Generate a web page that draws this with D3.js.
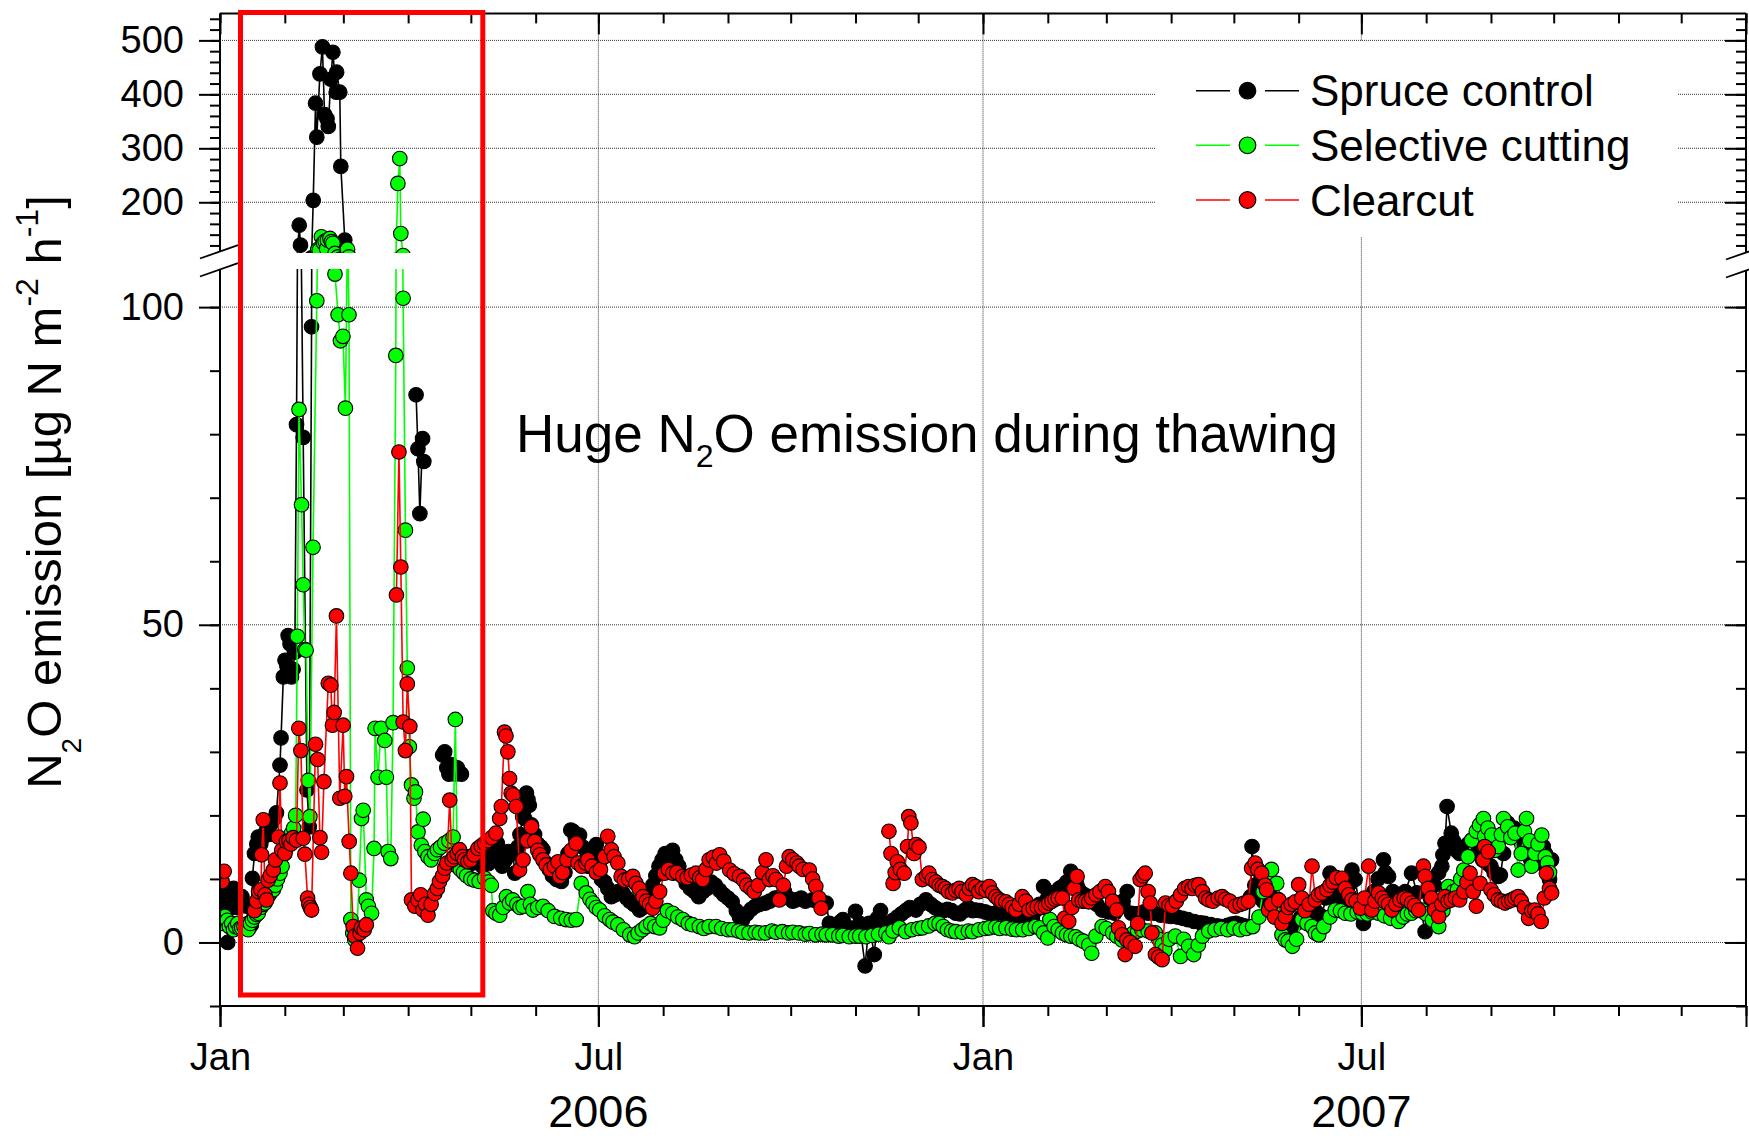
<!DOCTYPE html>
<html>
<head>
<meta charset="utf-8">
<script src="https://cdn.jsdelivr.net/npm/d3@7"></script>
<style>
  body { margin: 0; background: #fff; }
  svg { display: block; }
  text { font-family: "Liberation Sans", Arial, Helvetica, sans-serif; fill: #000; }
</style>
</head>
<body>
<svg id="chart" width="1749" height="1139"></svg>
<script>
// N2O emission from three forest treatments, Jan 2006 – Sep 2007.
// Each series is a list of [day since 1 Jan 2006, µg N m-2 h-1]; null breaks the line.

const seriesNames = ["Spruce control", "Selective cutting", "Clearcut"];
const seriesColors = ["#000000", "#00ff00", "#ff0000"];

const spruceControl = [
  [0,6],[1,7.5],[2,8],[3,6.5],[3.7,0],[4.5,7],[5.5,5.5],[6.5,8.5],[7.5,7.8],[8.5,5.5],[9.6,6.7],[10.5,7.2],[11.5,6],[12.7,5.7],[13.5,3],[14.3,2.5],[15,2.8],
  [15.5,10.1],[16.5,14],[17.6,15.5],[18.3,16.6],[19.5,15.5],[20.7,16.6],[22,17.5],[23.5,17],[24.5,18.7],[26,19.5],[27,20.4],[28.7,27.9],[29.2,32.2],
  [30.3,41.8],[31.1,44.4],[32,43.5],[32.6,48.3],[33.5,47],[34.2,41.8],[35,43],[35.8,45.7],[36.6,81.5],[37.9,157.5],[38.5,120.5],[39.8,79.5],[41.6,24],
  [42.7,18.2],[43.8,96.9],[44.6,203.6],[45.7,383.6],[46.3,320.7],[47.8,438],[49,488],[50,362.6],[51.2,354.6],[51.8,340.5],[53,428],[54,478],[55.6,404],
  [55.8,441],[57.3,404],[57.8,266.5],[59.7,130],[60.1,112],[61,null],
  [93.8,86.2],[94.7,77.7],[95.6,67.5],[96.9,79.3],[97.5,75.7],[98,null],
  [106.5,29.5],[107.5,30],[108.5,27.5],[109.5,26.5],[110.5,28],[111.5,27],[112.5,26.5],[113.5,27.5],[114.5,26.8],[115.5,26.5],[116,null],
  [118,12],[119.5,13.5],[121,12.5],[122.5,14],[124,13],[125.5,12],[126.4,13.7],[128.4,12.4],[130,14],[131.5,15],[132.7,15.6],[133.8,13.5],[135,12],
  [136.5,13],[138,14.3],[140.2,14],[141,10.9],[142.5,15],[143.5,17],[144.8,19.8],[145.7,19.5],[146.6,23.5],[147.3,22.5],[148,21.6],[149,18.5],[150.5,17],
  [152,15.5],[153.5,15],[154.5,14.6],[156,12.5],[157.5,11.5],[159,10.5],[161,9.9],[163.3,9.6],[165,11],[166.5,14],[167.8,17.7],[168.9,17.5],[170,16.5],
  [172,16.9],[173.5,15],[175,13],[176,12],[177.5,13],[179,14.5],[180,15.4],[181,13.5],[181.6,12.7],[182.5,9.9],[184,9.5],[185.5,8.5],[187.2,7.2],[189,7.5],
  [190.5,8],[192.7,7.8],[194.5,7],[196,6.5],[198,6],[200.7,5.1],[202.5,5.5],[204,6.2],[205.5,7.5],[207,9],[208.5,10.5],[210,12],[211.5,13],[213,14],
  [215,13.8],[216.5,14.5],[218,13],[219.5,12],[221,10.5],[223,9.3],[225,8.5],[227,8],[229,7.2],[231,8],[233,8.5],[235,9.5],[237,9],[239,8.2],[241,7.5],
  [243,7],[245,6.4],[247,5],[248.5,4],[250,3.6],[252,4.5],[254,5.2],[256,5.7],[258,6],[261,6.2],[263,6.5],[265.5,7],[268,7.2],[270,8],[272,7],[274,6.5],
  [275.5,6.7],[278,7],[280,6.5],[283.5,6.7],[285.5,6.5],[287.5,6],[290,6.2],[291.5,3],[293,2.5],[295,2.8],[297,3.3],[298,3.6],[300,2.5],[302.6,1.5],
  [304,4.9],[306,3],[308.6,-3.7],[310.5,3],[313,-1.9],[314.5,3.8],[316,5],[318,3],[320,2.5],[322,3.5],[324,4],[326,4.5],[328,5],[330,5.5],[332.9,5.1],
  [335,6],[337.7,6.7],[340,6],[342,5.5],[344,5.1],[346,5],[348,5.2],[350,5],[352,4.6],[354,4.5],[356,5],[358,5.5],[360,5],[361.5,5.1],[363.5,5],[366,4.8],
  [367.9,4.6],[370,4.5],[372,4.8],[374,4.6],[376,4.6],[378,4.2],[380,4],[382,3.8],[383.8,3.6],[386,3.5],[388.6,3.6],[390,5],[392,6],[394,8.8],[396,7],
  [398,7.8],[400,8],[401.5,8.5],[403,8.8],[405,9.5],[407,11.2],[408.5,9.9],[410,9],[411.5,8],[413.5,7.5],[415.6,7.2],[417.5,6.5],[419.5,6],[422,5.1],
  [425,4.8],[428,4.6],[430,5.5],[432,6.5],[434,8],[436,4.6],[438,4.5],[440,4.6],[442,4.8],[444,4.6],[447,4.6],[450,4.3],[453,4.2],[455,4.1],[458,4],
  [460.5,3.8],[463,3.6],[466,3.3],[469,3.1],[471,3],[474,2.8],[477,2.6],[479,2.5],[482,2.7],[484,2.9],[486,3],[488,2.8],[490,2.6],[492,2.5],[493,7.2],
  [493.7,15.1],[495,9],[497,8],[499,6.5],[501,6],[503,6.5],[505,7],[507,6],[508.5,5.7],[510.5,3],[513.6,0.9],[515,3],[517,4],[519,4.5],[522.4,5.1],
  [524.5,4.8],[527,4.1],[529,7],[531,10.9],[532.5,8],[534.3,6.4],[536,6],[538,7],[540,9],[541.5,11.4],[543,9.9],[545,6],[547,3],[548,6.4],[550,7],[552,8],
  [554,10],[556.6,13],[557.5,11],[559,10.4],[561,8],[563,7],[565,7.5],[567,8],[570,10.9],[572.6,7.8],[574.5,5],[576.5,1.7],[577,5.1],[579,7],[581,9],
  [583,11],[584.5,12],[585,13.8],[586,15.6],[587,21.4],[589,17.2],[590,16],[591,14.6],[593,14],[595,15],[597,15.5],[598.8,16.1],[600.5,15],[602,14],
  [604,13],[606,12.5],[608,12],[609.5,11],[611.5,10.4],[612.5,10.6],[614,14],[616,18.8],[617.5,17.5],[619,18],[621,17.2],[622,16],[623,15.1],[624,16.7],
  [625.5,15],[627,13],[628.5,12.5],[630,12.5],[631.5,14],[633,15.1],[634,14],[635,12],[636,9.9],[637,13]
];

const selectiveCutting = [
  [0,4],[1,3],[2.4,4.1],[3.5,3.5],[4.5,2.5],[5.6,3],[6.5,2],[7.5,2.5],[8.5,3],[9.5,2.2],[10.4,2.3],[11.5,2.5],[12.5,2.8],[13.5,2],[14.5,3],[15.5,3.5],
  [16.5,4],[17.5,4.4],[18.3,4.6],[19.5,5.5],[20.5,6],[21.5,6.2],[22.5,7],[23.5,7.5],[24.5,8],[25.5,8.3],[26.5,9],[27.5,10],[28.7,10.9],[29.7,12],[31,14],
  [32,15],[33,16],[34.2,17.2],[35.2,18],[36.2,20],[37,48.2],[37.8,83.9],[39,68.9],[39.8,56.3],[40.6,46.1],[41.2,46],[42.2,25.5],[43,19.8],[44.5,62.2],
  [46.3,101],[46.8,112.5],[47.5,111],[48.5,136],[49.5,125],[50.3,128],[51,114],[51.4,130],[52.6,133],[53.3,127],[54,124],[55,105.2],[56.5,98.8],
  [57.6,94.7],[58.8,95.4],[60,84.1],[61,113],[61.7,98.8],[62.6,3.6],[63.5,1.5],[64.5,0.4],[65.5,2],[66.6,9.8],[67.7,19.5],[68.5,20.8],[70,6.7],[71,5.7],
  [72.5,4.6],[73.7,14.8],[74.2,33.7],[75.6,26],[77,33.7],[78.8,31.8],[79.6,26],[80.4,14.3],[81.7,13.2],[82.8,34.6],[84.1,92.4],[85.1,235],[86,281],
  [86.5,142],[87.6,101.4],[88.7,64.9],[89.6,43.2],[90.6,30.8],[91.6,24.8],[92.8,22.7],[93.5,23.7],[94.7,17.4],[96.3,15.3],[97.2,19.4],[98,14.3],[99.5,13.5],
  [101,13],[102.7,14],[104,14.6],[105.5,15],[107.5,15.6],[109.5,16],[111.5,16.6],[112.6,35.1],[113.5,12],[115,11.5],[116.5,11],[118,10.5],[120,10],
  [121.8,9.8],[124,9.6],[126.6,10.1],[128.5,9.5],[129.8,9],[130.5,5],[132,4.6],[133.8,4.3],[135.5,5.5],[137,7.2],[138.5,6.2],[140,6.7],[142,6],[143.5,5.5],
  [145,5.7],[147.3,8],[148.5,6],[149.7,5.1],[152,5.5],[154.5,5.7],[157,5],[160,4.1],[163,3.8],[165.6,3.6],[168,3.5],[170.4,3.6],[172.8,9.3],[175.2,7.8],
  [177,6.8],[178.4,6.2],[180,5.5],[181.6,5.1],[184,4.2],[186.4,3.6],[188,3.2],[190.3,2.8],[193,2],[196,1.2],[198.3,0.9],[200,1.5],[202,2],[203.9,2.5],
  [206,3],[208,2.5],[210.3,2.3],[212,3.5],[214,5],[216.6,4.6],[219,4],[221.4,3.6],[224,3],[226,2.8],[229.3,2.5],[231.5,2.2],[234,2.5],[237.3,2.5],[240,2.2],
  [243,2],[245.2,2],[248,1.8],[250,1.6],[253,1.5],[256,1.6],[258,1.5],[261,1.5],[264,1.8],[266,1.6],[269,1.7],[272,1.5],[274,1.6],[277,1.5],[280,1.3],
  [282,1.4],[285,1.2],[288,1.3],[290,1.2],[293,1.2],[296,1],[298,1.1],[301,0.9],[304,1],[306,1],[309,0.9],[312,1.1],[315,1.3],[318.5,1.5],[320,0.9],
  [322,1.8],[325,2.3],[328,1.7],[331,2],[334,2.2],[336,2.3],[339,2.6],[342,3],[344,3],[346,2.5],[348,2],[350,1.8],[352,1.7],[355,1.6],[358,1.8],[360,1.7],
  [363,2],[366,2.2],[368,2.3],[371,2.4],[373,2.2],[376,2.3],[379,2.1],[381,2],[384,2],[387,2.2],[390,2.5],[392,2.3],[394,1.5],[396,0.7],[397,3.6],[399,2.5],
  [401,2],[403,1.5],[405,1.2],[407,1],[409.3,0.9],[411,0.5],[413,0.2],[415.6,-0.4],[417,-1.7],[419,1],[422,2.5],[424,2.2],[427,1.5],[429,1],[431.5,0.4],
  [434,1],[437,1.5],[439,1.8],[441,2],[444,1.8],[447.5,1.5],[449,0.5],[450.7,-0.4],[452,-1.2],[454,0.5],[457,1],[459.5,-2.2],[461,0.5],[463.4,-0.6],
  [465.8,-1.9],[468,-0.4],[470,1],[473,1.8],[476,2],[479,2.2],[482,2],[485,2.3],[488,2],[491,2.2],[494,2.5],[497,4],[499,8],[501.6,10.9],[503,11.5],
  [505.5,9.3],[507,6],[508,1.2],[509.6,0.4],[511,0.2],[513,-0.6],[515,0.5],[517.6,3.6],[520,3],[522.4,2.5],[524,1.5],[525.6,1.2],[528,2.5],[531,4],
  [533.5,5.1],[536,5],[538.3,4.6],[541,4.5],[544,4.8],[546.4,4.6],[549,4.5],[551,4.8],[554.2,4.6],[557,4.2],[560,3.8],[563.8,3.3],[566,4],[568,4.5],
  [570,4.6],[572,5],[575,5.1],[577,4.5],[580,3.5],[583,2.5],[585,5],[587.6,8.8],[590,8],[592,8.3],[593.5,10],[595,11.4],[597,13.5],[598.8,16.1],[601,17.5],
  [602.5,18.5],[604.4,19.5],[605,16.7],[606.5,18],[608.4,16.9],[610,14.5],[611.5,15.1],[613,17],[614,19.5],[616,18.2],[617.5,16.5],[619.5,17.2],[621,11.4],
  [622.5,14],[624,17.5],[625,19.5],[626.5,16],[627.5,12],[629,14],[630.5,15.5],[632.3,16.9],[634,13.5],[635,12.5],[636,11]
];

const clearcut = [
  [0,10.9],[1,9.6],[2,11.2],[3,null],
  [16.5,5],[17.5,6.5],[18.5,8],[19.6,8.3],[19.9,13.8],[20.7,19.3],[21.5,7.5],[22.3,6.7],[23,9.8],[24,10.5],[25.5,11.4],[26.5,13],[27.9,16.6],[28.7,25.1],
  [29.5,14.5],[31,14],[31.8,15.9],[33,16],[34,15.5],[35,16.5],[36.6,16.1],[37.7,33.7],[38.7,30.2],[39.8,16.4],[40.6,13.9],[41.9,7],[42.5,6],[43.2,5.5],
  [43.8,5.1],[45.7,31.2],[46.7,28.8],[47.8,16.5],[48.6,14.2],[49.7,25.3],[51.8,40.8],[53,40.5],[53.8,34.2],[54.6,36.2],[55.7,51.4],[57.3,22.7],[58.9,34.2],
  [59.7,23],[60.5,26.1],[61.8,15.9],[62.6,10.9],[63.7,2.5],[64.5,1],[65.8,-0.9],[67,1.5],[67.7,2.3],[69,2],[70,2.8],[71,null],
  [84.4,54.7],[85.6,77.2],[86.5,59.1],[87.6,34.7],[88.7,30.2],[89.6,40.7],[90.8,34],[91.6,6.7],[93.2,5.7],[94.7,6.7],[96,7.5],[97.1,5.1],[98.3,6],
  [99.5,4.3],[101,6],[102.7,7.7],[104,8.5],[105,9.6],[106.5,10.5],[107.5,11.7],[108.5,12.5],[109.9,22.4],[111,13],[112,13.5],[113.5,14],[114.6,14.6],
  [116,13.5],[117,13],[118.6,12.7],[120,13],[121.5,13.8],[123.4,14.8],[125,15.2],[126.6,15.6],[128,16],[130,16.5],[132,17.2],[133.8,19.5],[134.6,21.4],
  [136.1,33.1],[136.8,32.5],[137.7,30],[138.5,25.8],[139.3,23.5],[140.2,23.2],[141.7,21.4],[143.3,11.4],[145,13],[147,16],[149,18.2],[150.5,15.9],[152,14.5],
  [153,13.8],[154.5,13],[156,12.2],[158,11.5],[160,12],[161.7,12.7],[162.5,10.4],[164,11],[166,13],[168,14.5],[170.4,15.6],[171.2,12.5],[173,12],[175,12.5],
  [176,13],[178,12],[180,11],[182,11.5],[184,13.5],[185.5,16.7],[187.2,14.6],[188.5,13.5],[190.3,12.5],[191.9,10.4],[193.5,9.8],[195.5,10],[197.5,10.4],
  [199,9.3],[200.5,8.5],[202.3,7.2],[204,6.5],[205.5,6],[207,5.4],[208.5,6.5],[210.3,8],[212.6,10.9],[214.5,11.5],[216.6,10.9],[218.5,11],[221.4,10.4],
  [223.5,10.2],[225.5,10.6],[227.7,10.9],[229.5,10.2],[230.9,9.9],[232.5,11.5],[234,13],[236,13.4],[237.5,12.5],[239,13.8],[241,12.8],[243.8,11.4],[246,10.8],
  [248.5,10.4],[250.5,9.8],[252,9],[254,8.5],[255.6,8],[257.5,9],[259.5,11],[261.2,13],[262.8,9.9],[264.5,10.5],[266,9.9],[267.6,6.7],[269.5,9],[271,12],
  [272.3,13.5],[274,13],[276,12.5],[277.1,12],[279,11.5],[281.9,11.4],[283.5,10],[285,8.8],[286.5,7],[287.6,5.4],[288,null],
  [320,17.5],[321,14],[322,9.3],[323,11],[324,12.7],[325.5,11.5],[327.3,10.9],[328.9,15.1],[329.5,19.8],[330.5,18.8],[332,14],[333,15.4],[334.4,15],[336,9.9],
  [338,10.5],[339.2,10.9],[340.8,9.9],[342.5,9.5],[344,9],[345.6,8.8],[347,8.5],[348.5,8],[350.4,7.8],[352,8.2],[353.6,8.5],[355,8],[357,7.5],[358.5,8.5],
  [360,9.1],[361.5,8.8],[363,8],[364.7,8.5],[366.5,8.2],[368,8.8],[369.5,7.8],[371.1,7.2],[372.5,6.8],[374,6.5],[375.9,6.4],[377.5,6],[379,5.5],[380.7,5.1],
  [382.3,6],[383.8,7.2],[385.5,6.5],[387,5.1],[389,5.4],[391,5.6],[393,5.5],[394.9,5.7],[396.5,6.2],[398,6.5],[399.5,6.8],[401,7],[403,7],[404,3.8],[406,3.3],
  [407.5,5.5],[408.5,8.5],[410,10.4],[410.8,6.7],[412.5,6.5],[414,6.5],[415.6,6.4],[417,7],[419,7.5],[421,8],[423.5,8.8],[425,8],[427,6.5],[429,5.1],
  [429.8,2.3],[431.5,1.2],[433,-1.9],[433.8,0.4],[435.5,0],[437.8,-0.6],[439,3],[440.2,9.9],[441.5,10.5],[442.6,10.9],[444,8],[445,6.2],[445.8,1.5],
  [447.5,-1.9],[449,-2.3],[450.7,-2.7],[452.3,6.2],[454,5.8],[455.5,5.7],[457.5,6.5],[459.5,7.5],[461.5,8.5],[463.4,8.8],[465,8.5],[466.5,9],[468.2,9.1],
  [470,8],[471.5,7],[473,6.7],[475,6.5],[477.5,7],[479.4,7.2],[481,6.8],[483,6.5],[485.7,5.7],[488,6],[490,6.2],[492,6.5],[493.5,11.7],[495.2,12.5],
  [496.5,11.5],[498.3,10.9],[500,9],[500.7,8.3],[501.6,5.1],[503,6],[504.5,4],[506.5,6.7],[508,3],[509.6,4.1],[511,5.5],[512.5,6],[514.4,6.4],[516,9.1],
  [517.5,7],[519,5],[521,6],[522.4,12],[524,6.7],[525.5,7.5],[527.2,7.8],[529.5,8.3],[531,9],[532.5,9.5],[534,10.2],[536.7,10.1],[538.3,8.5],[540,7.5],
  [541.5,6.7],[543.5,6.5],[545.5,5.4],[547.5,7],[549.5,12],[551,5.1],[552.5,6.5],[554.2,7.8],[556,7],[557.4,6.4],[559,6],[560.6,5.1],[562.5,6],[564.5,6.7],
  [566.5,7],[568,6.8],[570,6.2],[571.5,5.8],[573.4,5.1],[575.7,12],[576.5,10.4],[578,8.5],[579.5,7],[581,5.1],[583,4.1],[584.5,6],[586,7.2],[587.5,6.5],
  [589,6.7],[591,7],[593,6.7],[595,8],[596.5,9.5],[598,10.9],[599.5,8],[601,5.7],[602.8,9.3],[604.4,13],[605,15.1],[606.7,14.3],[608,8.3],[609.5,7.5],
  [611.5,6.7],[613,6.5],[614.7,6.2],[616.5,6.5],[618,6.7],[619.5,7],[621,7.2],[622.5,6.5],[624,5.5],[626,3.8],[627.5,5],[629,5.1],[630.5,4.5],[632,3.3],
  [633.5,7],[634.5,10.9],[636,8.5],[637,7.8]
];

// Axis ticks and labels
const lowerLabelTicks = [0, 50, 100];
const lowerMinorTicks = d3.range(-10, 101, 10);
const upperLabelTicks = [200, 300, 400, 500];
const upperMinorTicks = d3.range(120, 541, 20);
const monthLabels = { 0: "Jan", 6: "Jul" };
const yearLabels = [["2006", 181], ["2007", 546]];   // [label, centre day]
const annotationText = "Huge N₂O emission during thawing";

// ---- layout
const W = 1749, H = 1139;
const L = 220, R = 1746, T = 13.4, B = 1006;
const lowTop = 269, upBottom = 253;
const dayToDate = d => new Date(Date.UTC(2006, 0, 1) + d * 864e5);
const lastDay = 730;

const x = d3.scaleUtc().domain([dayToDate(0), dayToDate(lastDay)]).range([L, R]);
const yLow = d3.scaleLinear().domain([-10, 106]).range([B, lowTop]);
const yUp = d3.scaleLinear().domain([106, 550]).range([upBottom, T]);

const svg = d3.select("#chart");
svg.append("rect").attr("width", W).attr("height", H).attr("fill", "#fff");

const defs = svg.append("defs");
defs.append("clipPath").attr("id", "clipLow").append("rect")
  .attr("x", L).attr("y", lowTop).attr("width", R - L).attr("height", B - lowTop);
defs.append("clipPath").attr("id", "clipUp").append("rect")
  .attr("x", L).attr("y", T).attr("width", R - L).attr("height", upBottom - T);

// ---- grid lines
const grid = svg.append("g").attr("stroke", "#333").attr("stroke-width", 1)
  .attr("stroke-dasharray", "1,1");
lowerLabelTicks.forEach(v => grid.append("line")
  .attr("x1", L).attr("x2", R).attr("y1", yLow(v)).attr("y2", yLow(v)));
upperLabelTicks.forEach(v => grid.append("line")
  .attr("x1", L).attr("x2", R).attr("y1", yUp(v)).attr("y2", yUp(v)));
[181, 365, 546].forEach(d => grid.append("line")
  .attr("x1", x(dayToDate(d))).attr("x2", x(dayToDate(d))).attr("y1", T).attr("y2", B));

// ---- legend background hides the grid behind it
svg.append("rect").attr("x", 1155).attr("y", 41).attr("width", 522).attr("height", 196).attr("fill", "#fff");

// ---- series
const series = [
  { name: seriesNames[0], color: seriesColors[0], data: spruceControl },
  { name: seriesNames[1], color: seriesColors[1], data: selectiveCutting },
  { name: seriesNames[2], color: seriesColors[2], data: clearcut }
];
const panels = [
  { y: yLow, clip: "url(#clipLow)" },
  { y: yUp, clip: "url(#clipUp)" }
];

series.forEach(s => {
  panels.forEach(p => {
    const g = svg.append("g").attr("clip-path", p.clip);
    const line = d3.line()
      .defined(d => d[1] != null)
      .x(d => x(dayToDate(d[0])))
      .y(d => p.y(d[1]));
    g.append("path").datum(s.data).attr("d", line)
      .attr("fill", "none").attr("stroke", s.color).attr("stroke-width", 1.6);
    g.selectAll("circle").data(s.data.filter(d => d[1] != null)).join("circle")
      .attr("cx", d => x(dayToDate(d[0])))
      .attr("cy", d => p.y(d[1]))
      .attr("r", 7.3)
      .attr("fill", s.color)
      .attr("stroke", "#000").attr("stroke-width", 1.1);
  });
});

// ---- axes
const months = d3.utcMonth.range(dayToDate(0), dayToDate(lastDay + 1));
const majorMonths = months.filter(m => m.getUTCMonth() % 6 === 0);
const labelledMonths = majorMonths.filter(m => m < dayToDate(lastDay));

function styleAxis(g) {
  g.select(".domain").remove();
  g.selectAll(".tick line").attr("stroke", "#000").attr("stroke-width", 2);
  g.selectAll(".tick text").attr("font-size", 38).attr("fill", "#000")
    .attr("font-family", '"Liberation Sans", Arial, sans-serif');
}

// bottom (outward)
svg.append("g").attr("transform", `translate(0,${B})`)
  .call(d3.axisBottom(x).tickValues(months).tickSize(10).tickFormat("")).call(styleAxis);
svg.append("g").attr("transform", `translate(0,${B})`)
  .call(d3.axisBottom(x).tickValues(majorMonths).tickSize(21).tickFormat("")).call(styleAxis);
svg.append("g").attr("transform", `translate(0,${B})`)
  .call(d3.axisBottom(x).tickValues(labelledMonths).tickSize(21).tickPadding(16)
    .tickFormat(m => monthLabels[m.getUTCMonth()])).call(styleAxis);
// top (inward)
svg.append("g").attr("transform", `translate(0,${T})`)
  .call(d3.axisBottom(x).tickValues(months).tickSize(10).tickFormat("")).call(styleAxis);
svg.append("g").attr("transform", `translate(0,${T})`)
  .call(d3.axisBottom(x).tickValues(majorMonths).tickSize(21).tickFormat("")).call(styleAxis);

// left (outward) and right (inward), both panels
[[yLow, lowerMinorTicks, lowerLabelTicks], [yUp, upperMinorTicks, upperLabelTicks]].forEach(([sc, minor, major]) => {
  svg.append("g").attr("transform", `translate(${L},0)`)
    .call(d3.axisLeft(sc).tickValues(minor).tickSize(10).tickFormat("")).call(styleAxis);
  svg.append("g").attr("transform", `translate(${L},0)`)
    .call(d3.axisLeft(sc).tickValues(major).tickSize(21).tickPadding(15).tickFormat(d3.format("d"))).call(styleAxis);
  svg.append("g").attr("transform", `translate(${R},0)`)
    .call(d3.axisLeft(sc).tickValues(minor).tickSize(10).tickFormat("")).call(styleAxis);
  svg.append("g").attr("transform", `translate(${R},0)`)
    .call(d3.axisLeft(sc).tickValues(major).tickSize(21).tickFormat("")).call(styleAxis);
});

// axis lines with the break
const frame = svg.append("g").attr("stroke", "#000").attr("stroke-width", 2).attr("fill", "none");
frame.append("line").attr("x1", L).attr("x2", R).attr("y1", T).attr("y2", T);
frame.append("line").attr("x1", L).attr("x2", R).attr("y1", B).attr("y2", B);
frame.append("line").attr("x1", L).attr("x2", L).attr("y1", T).attr("y2", 251.5);
frame.append("line").attr("x1", L).attr("x2", L).attr("y1", 269.5).attr("y2", B);
frame.append("line").attr("x1", R).attr("x2", R).attr("y1", T).attr("y2", 252.5);
frame.append("line").attr("x1", R).attr("x2", R).attr("y1", 270.5).attr("y2", B);
// break marks
const slope = -0.35;
[[L, 251.5], [L, 269.5], [R, 252.5], [R, 270.5]].forEach(([cx, cy]) => {
  frame.append("line").attr("stroke-width", 1.8)
    .attr("x1", cx - 20).attr("y1", cy - 20 * slope)
    .attr("x2", cx + 18).attr("y2", cy + 18 * slope);
});

// year labels
yearLabels.forEach(([lab, d]) => svg.append("text")
  .attr("x", x(dayToDate(d))).attr("y", 1127).attr("text-anchor", "middle")
  .attr("font-size", 45).text(lab));

// y-axis title
const yt = svg.append("text").attr("transform", "translate(61,492) rotate(-90)")
  .attr("text-anchor", "middle").attr("font-size", 49);
yt.append("tspan").text("N");
yt.append("tspan").attr("font-size", 28).attr("dy", 20).text("2");
yt.append("tspan").attr("dy", -20).text("O emission [µg N m");
yt.append("tspan").attr("font-size", 32).attr("dy", -23).text("-2");
yt.append("tspan").attr("dy", 23).text(" h");
yt.append("tspan").attr("font-size", 32).attr("dy", -23).text("-1");
yt.append("tspan").attr("dy", 23).text("]");

// annotation
const [annA, annB] = annotationText.split("₂");
const an = svg.append("text").attr("x", 516).attr("y", 452).attr("font-size", 53);
an.append("tspan").text(annA);
an.append("tspan").attr("font-size", 32).attr("dy", 15).text("2");
an.append("tspan").attr("dy", -15).text(annB);

// legend
const legendRows = [90.7, 145.3, 200];
series.forEach((s, i) => {
  const gy = legendRows[i];
  const lg = svg.append("g");
  lg.append("line").attr("x1", 1196).attr("x2", 1230).attr("y1", gy).attr("y2", gy)
    .attr("stroke", s.color).attr("stroke-width", 1.6);
  lg.append("line").attr("x1", 1265).attr("x2", 1299).attr("y1", gy).attr("y2", gy)
    .attr("stroke", s.color).attr("stroke-width", 1.6);
  lg.append("circle").attr("cx", 1247.5).attr("cy", gy).attr("r", 8.3)
    .attr("fill", s.color).attr("stroke", "#000").attr("stroke-width", 1.2);
  lg.append("text").attr("x", 1310).attr("y", gy + 15.5).attr("font-size", 44).text(s.name);
});

// highlighted thaw period
svg.append("rect").attr("x", 240.5).attr("y", 12.5).attr("width", 242.3).attr("height", 982.5)
  .attr("fill", "none").attr("stroke", "#ff0000").attr("stroke-width", 5);
</script>
</body>
</html>
